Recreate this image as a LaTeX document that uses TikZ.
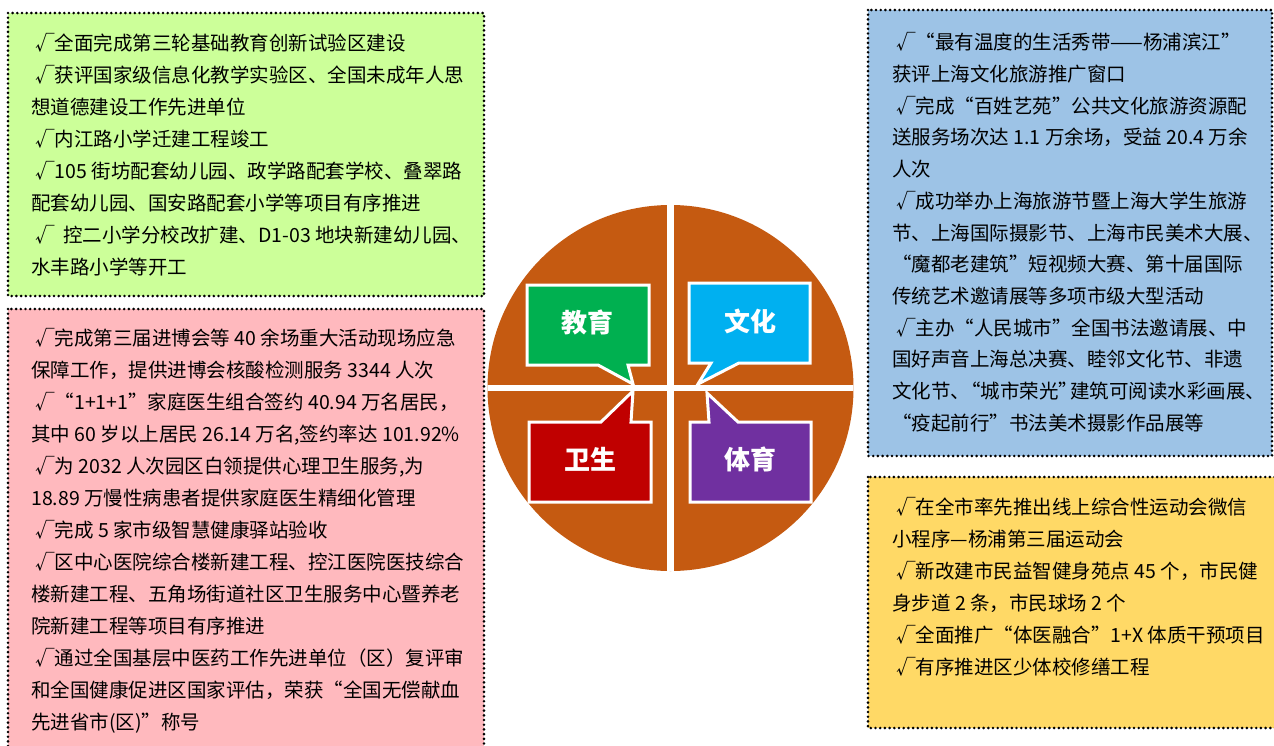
\documentclass[tikz,border=0pt]{standalone}
\usepackage{fontspec}
\newfontfamily\cjk{Noto Sans CJK SC}
\usepackage{tikz}
\usetikzlibrary{positioning}

\definecolor{edubg}{HTML}{CCFF99}
\definecolor{hlthbg}{HTML}{FFB9BE}
\definecolor{cultbg}{HTML}{9DC3E6}
\definecolor{sportbg}{HTML}{FFD966}
\definecolor{pie}{HTML}{C55A11}
\definecolor{edugreen}{HTML}{00B050}
\definecolor{cultblue}{HTML}{00B0F0}
\definecolor{hlthred}{HTML}{C00000}
\definecolor{sportpurple}{HTML}{7030A0}

\newcommand{\okmark}{\hspace*{4pt}√}

\tikzset{
  dotbox/.style={draw=black, line width=2.9pt, line cap=round, dash pattern=on 0pt off 4.7pt},
  txt/.style={anchor=north west, inner sep=0pt, align=left, font=\cjk\fontsize{19.5}{32}\selectfont},
  tag/.style={text=white, inner sep=0pt, font=\cjk\bfseries\fontsize{26}{26}\selectfont},
  bubble/.style={draw=white, line width=3pt, line join=miter}
}

\begin{document}
\begin{tikzpicture}[x=1pt,y=-1pt]
\clip (0,0) rectangle (1274,745);
\fill[white] (0,0) rectangle (1274,745);

% the four dotted panels
\draw[dotbox, fill=edubg] (8,13) rectangle (484,296);
\draw[dotbox, fill=hlthbg] (8,309) rectangle (484,770);
\draw[dotbox, fill=cultbg] (868,10) rectangle (1272,456);
\draw[dotbox, fill=sportbg] (868,477) rectangle (1295,728);

\node[txt] (edutxt) at (31,33.5) {\okmark 全面完成第三轮基础教育创新试验区建设\\
\okmark 获评国家级信息化教学实验区、全国未成年人思\\
想道德建设工作先进单位\\
\okmark 内江路小学迁建工程竣工\\
\okmark 105 街坊配套幼儿园、政学路配套学校、叠翠路\\
配套幼儿园、国安路配套小学等项目有序推进\\
\okmark\ \ 控二小学分校改扩建、D1-03 地块新建幼儿园、\\
水丰路小学等开工};

\node[txt] (hlthtxt) at (31,328.5) {\okmark 完成第三届进博会等 40 余场重大活动现场应急\\
保障工作，提供进博会核酸检测服务 3344 人次\\
\okmark “1+1+1”家庭医生组合签约 40.94 万名居民，\\
其中 60 岁以上居民 26.14 万名,签约率达 101.92\%\\
\okmark 为 2032 人次园区白领提供心理卫生服务,为\\
18.89 万慢性病患者提供家庭医生精细化管理\\
\okmark 完成 5 家市级智慧健康驿站验收\\
\okmark 区中心医院综合楼新建工程、控江医院医技综合\\
楼新建工程、五角场街道社区卫生服务中心暨养老\\
院新建工程等项目有序推进\\
\okmark 通过全国基层中医药工作先进单位（区）复评审\\
和全国健康促进区国家评估，荣获“全国无偿献血\\
先进省市(区)”称号};

\node[txt, font=\cjk\fontsize{19.5}{31.7}\selectfont] (culttxt) at (892,32.5) {\okmark “最有温度的生活秀带——杨浦滨江”\\
获评上海文化旅游推广窗口\\
\okmark 完成“百姓艺苑”公共文化旅游资源配\\
送服务场次达 1.1 万余场，受益 20.4 万余\\
人次\\
\okmark 成功举办上海旅游节暨上海大学生旅游\\
节、上海国际摄影节、上海市民美术大展、\\
“魔都老建筑”短视频大赛、第十届国际\\
传统艺术邀请展等多项市级大型活动\\
\okmark 主办“人民城市”全国书法邀请展、中\\
国好声音上海总决赛、睦邻文化节、非遗\\
文化节、\kern-9pt“城市荣光”\kern-8pt建筑可阅读水彩画展、\\
“疫起前行”书法美术摄影作品展等};

\node[txt] (sporttxt) at (892,497.5) {\okmark 在全市率先推出线上综合性运动会微信\\
小程序—杨浦第三届运动会\\
\okmark 新改建市民益智健身苑点 45 个，市民健\\
身步道 2 条，市民球场 2 个\\
\okmark 全面推广“体医融合”1+X 体质干预项目\\
\okmark 有序推进区少体校修缮工程};

% centre disc cut in four
\fill[pie] (670.5,388) circle (183pt);
\begin{scope}
\clip (670.5,388) circle (183pt);
\draw[white, line width=7pt] (670.5,200) -- (670.5,576);
\draw[white, line width=6pt] (480,388) -- (860,388);
\end{scope}

% speech bubbles
\filldraw[bubble, fill=edugreen] (527,285) -- (649,285) -- (649,365) -- (628,365)
  -- (633,384) -- (598,365) -- (527,365) -- cycle;
\filldraw[bubble, fill=cultblue] (689,283) -- (810,283) -- (810,363) -- (739,363)
  -- (698,384) -- (711,363) -- (689,363) -- cycle;
\filldraw[bubble, fill=hlthred] (529,422) -- (601,422) -- (633,391) -- (631,422)
  -- (651,422) -- (651,502) -- (529,502) -- cycle;
\filldraw[bubble, fill=sportpurple] (690,422) -- (709,422) -- (707,393) -- (738,422)
  -- (811,422) -- (811,502) -- (690,502) -- cycle;

\node[tag] (jiaoyu) at (587,322) {教育};
\node[tag] (wenhua) at (750,321) {文化};
\node[tag] (weisheng) at (590,459) {卫生};
\node[tag] (tiyu) at (750,459) {体育};
\end{tikzpicture}
\end{document}
